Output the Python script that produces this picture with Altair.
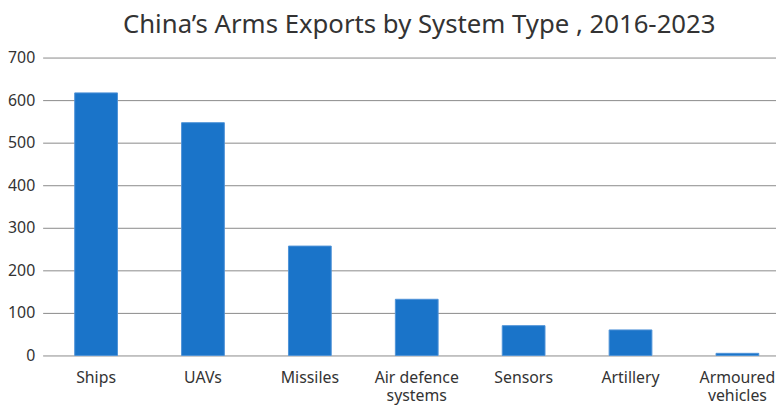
import altair as alt
import pandas as pd

categories = ["Ships", "UAVs", "Missiles", "Air defence|systems", "Sensors", "Artillery", "Armoured|vehicles"]
values = [617, 547, 257, 132, 70, 60, 5]
y_ticks = [0, 100, 200, 300, 400, 500, 600, 700]

df = pd.DataFrame({"category": categories, "value": values})

chart = alt.Chart(df).mark_bar(
    color="#1a74c9", stroke="#4f93d8", strokeWidth=1
).encode(
    x=alt.X("category:N", sort=categories,
            scale=alt.Scale(range=[0, 756], paddingInner=0.6, paddingOuter=0.3),
            axis=alt.Axis(title=None, labelAngle=0, labelFontSize=16, labelColor="#333333",
                          labelFont="Noto Sans", labelPadding=14, ticks=False, domain=False,
                          labelExpr="split(datum.label, '|')", labelLineHeight=19,
                          labelBaseline="top")),
    y=alt.Y("value:Q", scale=alt.Scale(domain=[0, 700], nice=False),
            axis=alt.Axis(title=None, values=y_ticks, labelFontSize=16, labelColor="#333333",
                          labelFont="Noto Sans", labelPadding=8, ticks=False, domain=False,
                          gridColor="#8a8a8a", gridWidth=1)),
).properties(
    width=741, height=301,
    title=alt.TitleParams("China’s Arms Exports by System Type , 2016-2023", fontSize=26,
                          font="Noto Sans", fontWeight="normal", color="#333333",
                          anchor="middle", offset=12, dx=10),
    autosize=alt.AutoSizeParams(type="none"),
    padding={"left": 35, "top": 48, "right": 0, "bottom": 50},
).configure_view(stroke=None)

chart.save("out.html", embed_options={"renderer": "svg", "actions": False})
